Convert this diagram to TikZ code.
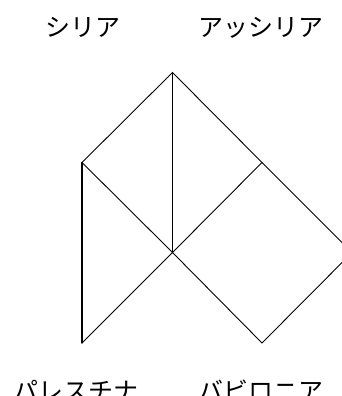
\documentclass[tikz,border=0pt]{standalone}
\usepackage{fontspec}
\newfontfamily\jpfont{Noto Sans CJK JP}
\begin{document}
\begin{tikzpicture}[x=1pt,y=1pt,line cap=round,
  font=\jpfont\fontsize{25}{27}\selectfont,
  edge/.style={line width=0.9pt},
  rail/.style={line width=1.3pt},
  place/.style={inner sep=0pt,anchor=center}]
\useasboundingbox (0,0) rectangle (342,396);
% lattice points
\coordinate (apex) at (172.5,323.5);
\coordinate (west) at (82,233.5);
\coordinate (east) at (262,233.5);
\coordinate (mid) at (172.5,143.5);
\coordinate (far) at (352,143.5);
\coordinate (swest) at (82,53);
\coordinate (south) at (262,53);
% edges
\draw[edge] (west) -- (apex) -- (east) -- (far) -- (south) -- (mid) -- (swest);
\draw[edge] (west) -- (mid) -- (east);
\draw[rail] (apex) -- (mid);
\draw[rail] (west) -- (swest);
% labels
\node[place] (syria) at (82.5,368.5) {シリア};
\node[place] (assyria) at (261,368.5) {アッシリア};
\node[place] (palestine) at (75.5,5) {パレスチナ};
\node[place] (babylon) at (261,5) {バビロニア};
\end{tikzpicture}
\end{document}
